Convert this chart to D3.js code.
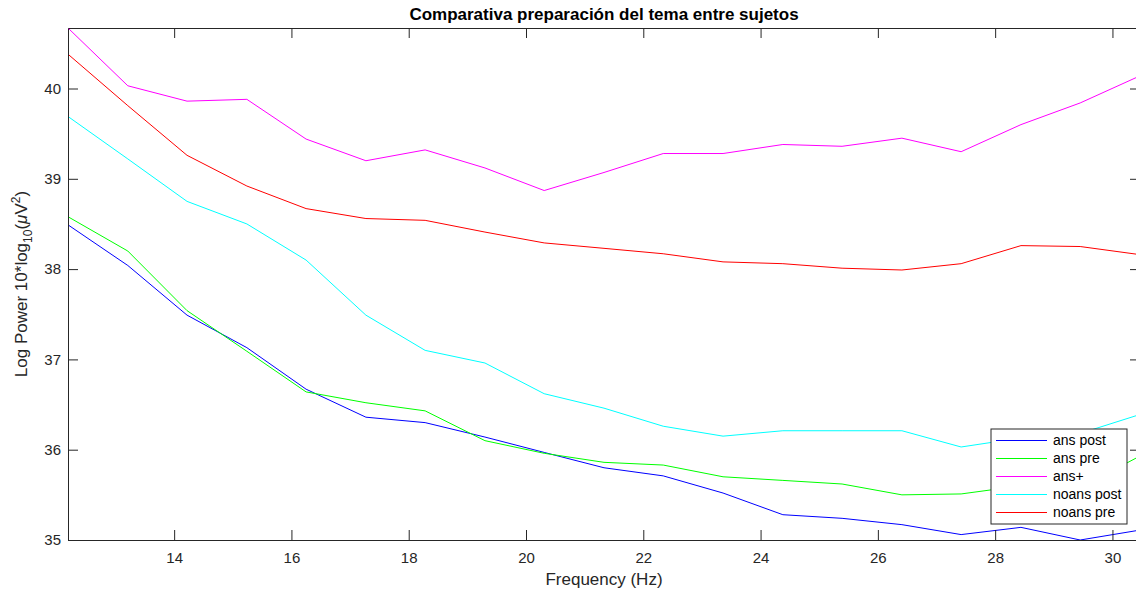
<!DOCTYPE html>
<html>
<head>
<meta charset="utf-8">
<script src="https://cdn.jsdelivr.net/npm/d3@7"></script>
<style>
  html, body { margin: 0; padding: 0; background: #ffffff; }
  svg { display: block; font-family: "Liberation Sans", Arial, Helvetica, sans-serif; }
</style>
</head>
<body>
<svg id="chart" width="1136" height="595"></svg>
<script>
// ---- data ----
const freqs = [12.19, 13.21, 14.22, 15.24, 16.25, 17.27, 18.28, 19.30, 20.31, 21.33,
               22.34, 23.36, 24.38, 25.39, 26.41, 27.42, 28.44, 29.45, 30.47];
const seriesNames = ["ans post", "ans pre", "ans+", "noans post", "noans pre"];
const seriesColors = ["#0000ff", "#00ff00", "#ff00ff", "#00ffff", "#ff0000"];
const ansPost   = [38.49, 38.04, 37.49, 37.13, 36.67, 36.36, 36.30, 36.14, 35.97, 35.80,
                   35.71, 35.52, 35.28, 35.24, 35.17, 35.06, 35.14, 35.00, 35.11];
const ansPre    = [38.58, 38.20, 37.54, 37.09, 36.64, 36.52, 36.43, 36.10, 35.96, 35.86,
                   35.83, 35.70, 35.66, 35.62, 35.50, 35.51, 35.60, 35.58, 35.93];
const ansPlus   = [40.67, 40.03, 39.86, 39.88, 39.44, 39.20, 39.32, 39.12, 38.87, 39.07,
                   39.28, 39.28, 39.38, 39.36, 39.45, 39.30, 39.60, 39.84, 40.14];
const noansPost = [39.69, 39.22, 38.75, 38.50, 38.10, 37.49, 37.10, 36.96, 36.62, 36.46,
                   36.26, 36.15, 36.21, 36.21, 36.21, 36.03, 36.13, 36.18, 36.39];
const noansPre  = [40.38, 39.81, 39.26, 38.92, 38.67, 38.56, 38.54, 38.41, 38.29, 38.23,
                   38.17, 38.08, 38.06, 38.01, 37.99, 38.06, 38.26, 38.25, 38.16];
const xTicks = [14, 16, 18, 20, 22, 24, 26, 28, 30];
const yTicks = [35, 36, 37, 38, 39, 40];
const titleText = "Comparativa preparación del tema entre sujetos";
const xLabelText = "Frequency (Hz)";

const allSeries = [ansPost, ansPre, ansPlus, noansPost, noansPre];

// ---- layout ----
const svg = d3.select("#chart");
const mLeft = 68, mRight = 1140, mTop = 28, mBottom = 540;
const axisColor = "#262626";

const x = d3.scaleLinear().domain(d3.extent(freqs)).range([mLeft, mRight]);
const y = d3.scaleLinear()
  .domain([d3.min(allSeries, s => d3.min(s)), d3.max(allSeries, s => d3.max(s))])
  .range([mBottom, mTop]);

// lines
const line = d3.line().x((d, i) => x(freqs[i])).y(d => y(d));
const plot = svg.append("g");
allSeries.forEach((s, k) => {
  plot.append("path")
    .datum(s)
    .attr("d", line)
    .attr("fill", "none")
    .attr("stroke", seriesColors[k])
    .attr("stroke-width", 1)
    .attr("stroke-linejoin", "round");
});

// axes (MATLAB style: inward ticks on all four sides)
const tickLen = 10;
const fontTick = 15;
const fmt = d3.format("d");
const xAxisB = d3.axisBottom(x).tickValues(xTicks).tickFormat(fmt).tickSizeInner(-tickLen).tickSizeOuter(0).tickPadding(12);
const xAxisT = d3.axisTop(x).tickValues(xTicks).tickSizeInner(-tickLen).tickSizeOuter(0).tickFormat("");
const yAxisL = d3.axisLeft(y).tickValues(yTicks).tickFormat(fmt).tickSizeInner(-tickLen).tickSizeOuter(0).tickPadding(7);
const yAxisR = d3.axisRight(y).tickValues(yTicks).tickSizeInner(-tickLen).tickSizeOuter(0).tickFormat("");

function styleAxis(g) {
  g.select(".domain").attr("stroke", axisColor).attr("stroke-width", 1);
  g.selectAll(".tick line").attr("stroke", axisColor).attr("stroke-width", 1);
  g.selectAll(".tick text").attr("fill", axisColor).attr("font-size", fontTick)
    .attr("font-family", '"Liberation Sans", Arial, sans-serif');
}
svg.append("g").attr("transform", `translate(0,${mBottom})`).call(xAxisB).call(styleAxis);
svg.append("g").attr("transform", `translate(0,${mTop})`).call(xAxisT).call(styleAxis);
svg.append("g").attr("transform", `translate(${mLeft},0)`).call(yAxisL).call(styleAxis);
svg.append("g").attr("transform", `translate(${mRight},0)`).call(yAxisR).call(styleAxis);

// title
svg.append("text")
  .attr("x", (mLeft + mRight) / 2).attr("y", 20)
  .attr("text-anchor", "middle")
  .attr("font-size", 17).attr("font-weight", "bold").attr("fill", "#000")
  .text(titleText);

// x label
svg.append("text")
  .attr("x", (mLeft + mRight) / 2).attr("y", 585)
  .attr("text-anchor", "middle")
  .attr("font-size", 17).attr("fill", axisColor)
  .text(xLabelText);

// y label with sub/superscripts
const yl = svg.append("text")
  .attr("transform", `translate(27,${(mTop + mBottom) / 2}) rotate(-90)`)
  .attr("text-anchor", "middle")
  .attr("font-size", 17).attr("fill", axisColor);
yl.append("tspan").text("Log Power 10*log");
yl.append("tspan").attr("font-size", 12).attr("dy", 5).text("10");
yl.append("tspan").attr("dy", -5).text("(");
yl.append("tspan").attr("font-style", "italic").text("μ");
yl.append("tspan").text("V");
yl.append("tspan").attr("font-size", 12).attr("dy", -7).text("2");
yl.append("tspan").attr("dy", 7).text(")");

// legend
const lg = svg.append("g").attr("transform", "translate(991,429)");
lg.append("rect").attr("x", 0).attr("y", 0).attr("width", 136).attr("height", 95)
  .attr("fill", "#fff").attr("stroke", axisColor).attr("stroke-width", 1);
seriesNames.forEach((name, k) => {
  const yy = 11.5 + k * 18;
  lg.append("line").attr("x1", 5).attr("x2", 56).attr("y1", yy).attr("y2", yy)
    .attr("stroke", seriesColors[k]).attr("stroke-width", 1);
  lg.append("text").attr("x", 62).attr("y", yy).attr("dy", "0.35em")
    .attr("font-size", 14).attr("fill", "#000").text(name);
});
</script>
</body>
</html>
